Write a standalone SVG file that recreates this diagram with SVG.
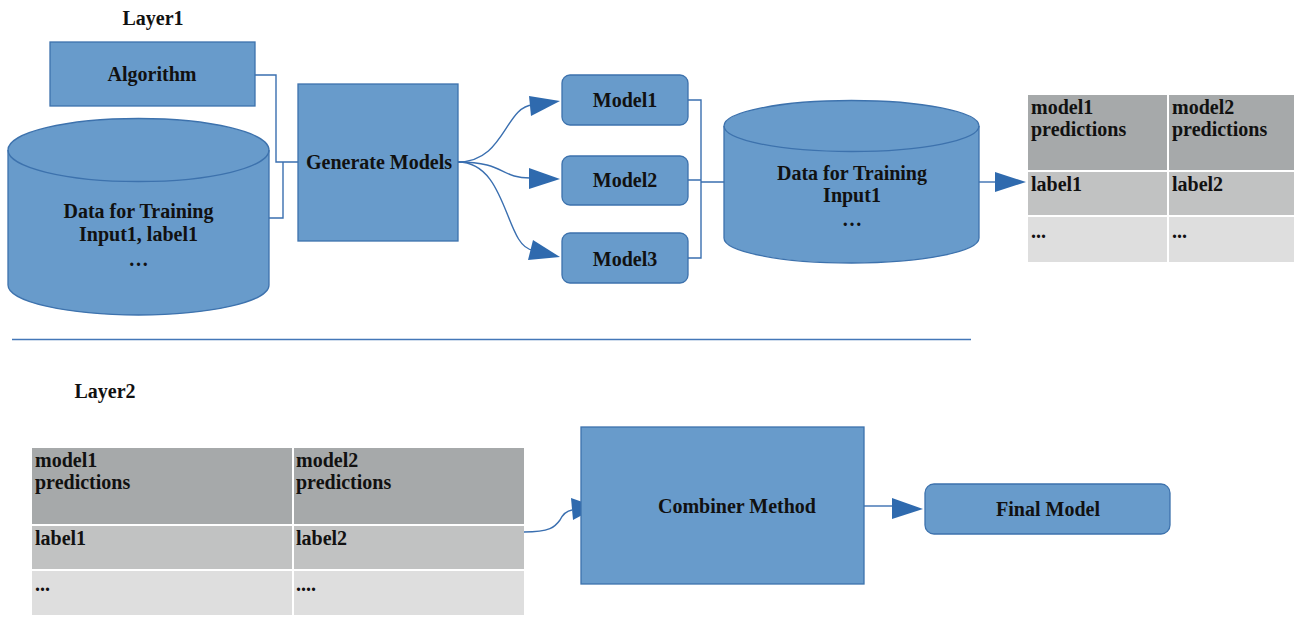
<svg xmlns="http://www.w3.org/2000/svg" width="1296" height="618" viewBox="0 0 1296 618">
<style>
.box{fill:#689bcb;stroke:#3d72ad;stroke-width:1.3}
.t{font-family:"Liberation Serif","Times New Roman",serif;font-weight:bold;font-size:20px;fill:#111}
.c{text-anchor:middle}
.ln{fill:none;stroke:#3a6fb0;stroke-width:1.4}
.ah{fill:#2f6aae}
.r1{fill:#a6a9aa}
.r2{fill:#c1c2c2}
.r3{fill:#dedede}
</style>
<rect width="1296" height="618" fill="#fff"/>
<text class="t c" x="153" y="25">Layer1</text>
<text class="t c" x="105" y="398">Layer2</text>
<line x1="12" y1="339.5" x2="971" y2="339.5" stroke="#4477b8" stroke-width="1.5"/>

<g id="connectors">
<path class="ln" d="M255,75 H276 V162 H298"/>
<path class="ln" d="M269,218 H283 V162"/>
<path class="ln" d="M458,162 C505,162 505,106 533,105"/>
<path class="ln" d="M458,162 C505,162 500,178 530,178"/>
<path class="ln" d="M458,162 C508,162 505,248 533,250"/>
<polygon class="ah" points="529,96 560,101 531,116"/>
<polygon class="ah" points="529,168 560,179 529,189"/>
<polygon class="ah" points="533,240 560,257 528,260"/>
<path class="ln" d="M688,100 H701 V258 H688 M688,180 H701 M701,182 H724"/>
<path class="ln" d="M979,182 H996"/>
<polygon class="ah" points="995,172 1026,182 995,192"/>
<path class="ln" d="M524,532 C550,532 555,527 560,520 C563,514 566,511 572,510"/>
<polygon class="ah" points="571,498 597,507 573,520"/>
<path class="ln" d="M864,506 H892"/>
<polygon class="ah" points="892,498 923,509 892,519"/>
</g>

<g id="algorithm">
<rect class="box" x="50" y="42" width="205" height="64"/>
<text class="t c" x="152" y="81">Algorithm</text>
</g>

<g id="data1">
<path class="box" d="M8,150 A130.5,31.5 0 0 1 269,150 L269,285 A130.5,30 0 0 1 8,285 Z"/>
<path fill="none" stroke="#3d72ad" stroke-width="1.3" d="M8,150 A130.5,31.5 0 0 0 269,150"/>
<text class="t c" x="138.5" y="218">Data for Training</text>
<text class="t c" x="138.5" y="241">Input1, label1</text>
<text class="t c" x="138.5" y="266">…</text>
</g>

<g id="generate">
<rect class="box" x="298" y="84" width="160" height="157"/>
<text class="t c" x="379" y="169">Generate Models</text>
</g>

<g id="model1">
<rect class="box" x="562" y="75" width="126" height="50" rx="8"/>
<text class="t c" x="625" y="107">Model1</text>
</g>
<g id="model2">
<rect class="box" x="562" y="156" width="126" height="49" rx="8"/>
<text class="t c" x="625" y="187">Model2</text>
</g>
<g id="model3">
<rect class="box" x="562" y="233" width="126" height="50" rx="8"/>
<text class="t c" x="625" y="266">Model3</text>
</g>

<g id="data2">
<path class="box" d="M724,126 A127.5,25.5 0 0 1 979,126 L979,238 A127.5,25 0 0 1 724,238 Z"/>
<path fill="none" stroke="#3d72ad" stroke-width="1.3" d="M724,126 A127.5,25.5 0 0 0 979,126"/>
<text class="t c" x="852" y="180">Data for Training</text>
<text class="t c" x="852" y="202">Input1</text>
<text class="t c" x="852" y="226">…</text>
</g>

<g id="table1">
<rect class="r1" x="1028" y="95" width="139" height="75"/>
<rect class="r1" x="1169" y="95" width="125" height="75"/>
<rect class="r2" x="1028" y="172" width="139" height="43"/>
<rect class="r2" x="1169" y="172" width="125" height="43"/>
<rect class="r3" x="1028" y="217" width="139" height="45"/>
<rect class="r3" x="1169" y="217" width="125" height="45"/>
<text class="t" x="1031" y="114">model1</text>
<text class="t" x="1031" y="136">predictions</text>
<text class="t" x="1172" y="114">model2</text>
<text class="t" x="1172" y="136">predictions</text>
<text class="t" x="1031" y="191">label1</text>
<text class="t" x="1172" y="191">label2</text>
<text class="t" x="1031" y="238">...</text>
<text class="t" x="1172" y="238">...</text>
</g>

<g id="table2">
<rect class="r1" x="32" y="448" width="260" height="76"/>
<rect class="r1" x="294" y="448" width="230" height="76"/>
<rect class="r2" x="32" y="526" width="260" height="43"/>
<rect class="r2" x="294" y="526" width="230" height="43"/>
<rect class="r3" x="32" y="571" width="260" height="44"/>
<rect class="r3" x="294" y="571" width="230" height="44"/>
<text class="t" x="35" y="467">model1</text>
<text class="t" x="35" y="489">predictions</text>
<text class="t" x="296" y="467">model2</text>
<text class="t" x="296" y="489">predictions</text>
<text class="t" x="35" y="545">label1</text>
<text class="t" x="296" y="545">label2</text>
<text class="t" x="35" y="591">...</text>
<text class="t" x="296" y="591">....</text>
</g>

<g id="combiner">
<rect class="box" x="581" y="427" width="283" height="157"/>
<text class="t c" x="737" y="513">Combiner Method</text>
</g>

<g id="final">
<rect class="box" x="925" y="484" width="245" height="50" rx="9"/>
<text class="t c" x="1048" y="516">Final Model</text>
</g>
</svg>
